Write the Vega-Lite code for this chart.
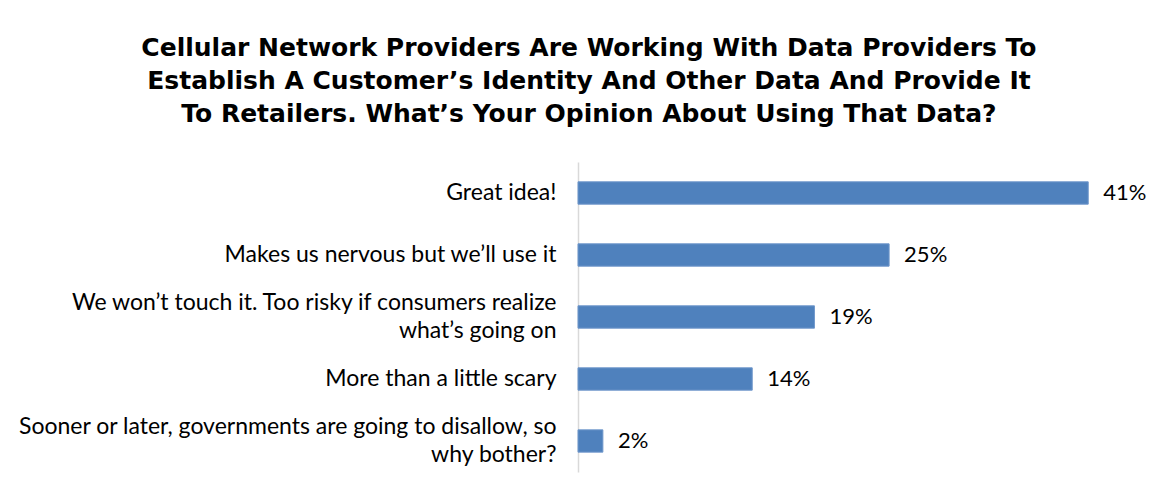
{
  "$schema": "https://vega.github.io/schema/vega-lite/v6.json",
  "autosize": "none",
  "padding": {"left": 578, "top": 162, "right": 22, "bottom": 22},
  "width": 560,
  "height": 310,
  "background": "white",
  "title": {
    "text": ["Cellular Network Providers Are Working With Data Providers To", "Establish A Customer’s Identity And Other Data And Provide It", "To Retailers. What’s Your Opinion About Using That Data?"],
    "font": "DejaVu Sans",
    "fontSize": 25,
    "fontWeight": "bold",
    "color": "black",
    "lineHeight": 33,
    "anchor": "middle",
    "frame": "bounds",
    "offset": 35,
    "dx": 7
  },
  "data": {
    "values": [
      {"answer": "Great idea!", "pct": 41, "lbl": "41%"},
      {"answer": "Makes us nervous but we’ll use it", "pct": 25, "lbl": "25%"},
      {"answer": "We won’t touch it.  Too risky if consumers realize|what’s going on", "pct": 19, "lbl": "19%"},
      {"answer": "More than a little scary", "pct": 14, "lbl": "14%"},
      {"answer": "Sooner or later, governments are going to disallow, so|why bother?", "pct": 2, "lbl": "2%"}
    ]
  },
  "encoding": {
    "y": {
      "field": "answer",
      "type": "nominal",
      "sort": null,
      "scale": {"paddingInner": 0.64, "paddingOuter": 0.32},
      "axis": {
        "title": null,
        "ticks": false,
        "grid": false,
        "domainColor": "#d9d9d9",
        "domainWidth": 1.5,
        "labelFont": "Lato",
        "labelFontSize": 23,
        "labelColor": "black",
        "labelPadding": 22,
        "labelLimit": 600,
        "labelLineHeight": 28,
        "labelBaseline": "middle",
        "labelOffset": {"condition": {"test": "indexof(datum.value, '|') >= 0", "value": -14}, "value": 0},
        "labelExpr": "split(datum.label, '|')"
      }
    },
    "x": {
      "field": "pct",
      "type": "quantitative",
      "scale": {"domain": [0, 45], "nice": false},
      "axis": null
    }
  },
  "layer": [
    {"mark": {"type": "bar", "color": "#4F81BD", "stroke": "#6f97cb", "strokeWidth": 1}},
    {
      "mark": {"type": "text", "align": "left", "baseline": "middle", "dx": 15, "font": "Lato", "fontSize": 22, "color": "black"},
      "encoding": {"text": {"field": "lbl"}}
    }
  ],
  "config": {"view": {"stroke": null}}
}
